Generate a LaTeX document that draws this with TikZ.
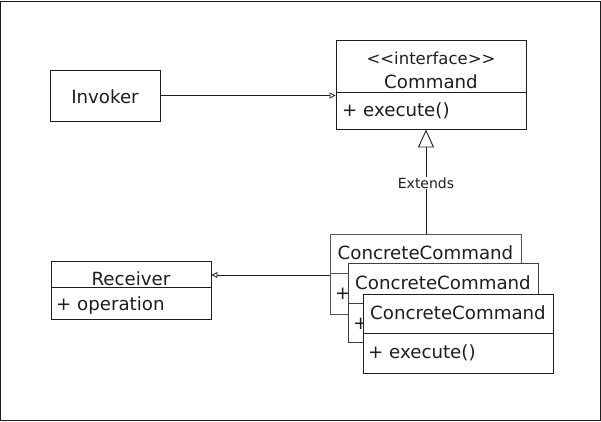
\documentclass[tikz,border=0pt]{standalone}
\usepackage{fontspec}
\setmainfont{DejaVu Sans}
\usetikzlibrary{arrows.meta}
\definecolor{ink}{HTML}{1E1E1E}
\begin{document}
\begin{tikzpicture}[x=1pt,y=-1pt,
  box/.style={draw=ink, line width=0.9pt, fill=white, inner sep=0pt, anchor=center},
  lbl/.style={font=\fontsize{18.2}{21}\selectfont, text=ink, inner sep=0pt},
  small/.style={font=\fontsize{14}{17}\selectfont, text=ink, inner sep=1pt, fill=white},
  assoc/.style={draw=ink, line width=0.8pt, -{Triangle[open, length=6pt, width=6pt]}},
  inherit/.style={draw=ink, line width=0.9pt, -{Triangle[open, length=18pt, width=16pt]}}]
\useasboundingbox (0,0) rectangle (601,421);
\draw[ink, line width=1pt] (0.8,1.2) rectangle (600,420);

% Invoker
\node[box, minimum width=110pt, minimum height=51pt] (inv) at (105,95.5) {};
\node[lbl] (invt) at (105,97) {Invoker};

% Command
\node[box, minimum width=190pt, minimum height=52pt] (cmdh) at (431,66) {};
\node[box, minimum width=190pt, minimum height=37pt] (cmdb) at (431,110.5) {};
\node[lbl, font=\fontsize{16.5}{20}\selectfont] (cmds) at (431,58) {{<}{<}interface{>}{>}};
\node[lbl] (cmdn) at (431,82) {Command};
\node[lbl, anchor=west] (cmde) at (342,111) {+ execute()};

% Receiver
\node[box, minimum width=160pt, minimum height=26pt] (rech) at (131,274) {};
\node[box, minimum width=160pt, minimum height=32pt] (recb) at (131,303) {};
\node[lbl] (recn) at (131,279) {Receiver};
\node[lbl, anchor=west] (reco) at (56,305) {+ operation};

% ConcreteCommand 1
\node[box, draw=ink!75, minimum width=191pt, minimum height=39pt] (c1h) at (425.5,253.5) {};
\node[box, draw=ink!75, minimum width=191pt, minimum height=41pt] (c1b) at (425.5,293.5) {};
\node[lbl] (c1n) at (425.5,253) {ConcreteCommand};
\node[lbl, anchor=west] (c1p) at (335,294) {+};

% ConcreteCommand 2
\node[box, draw=ink!85, minimum width=190pt, minimum height=40pt] (c2h) at (443,283) {};
\node[box, draw=ink!85, minimum width=190pt, minimum height=39pt] (c2b) at (443,322.5) {};
\node[lbl] (c2n) at (443,283) {ConcreteCommand};
\node[lbl, anchor=west] (c2p) at (353,324) {+};

% ConcreteCommand 3
\node[box, minimum width=190pt, minimum height=39pt] (c3h) at (458,313.5) {};
\node[box, minimum width=190pt, minimum height=40pt] (c3b) at (458,353) {};
\node[lbl] (c3n) at (458,313) {ConcreteCommand};
\node[lbl, anchor=west] (c3e) at (368,353) {+ execute()};

% connectors
\draw[assoc] (inv.east) -- (inv.east -| cmdh.west);
\coordinate (c1top) at (426,234);
\draw[inherit] (c1top) -- (c1top |- cmdb.south);
\node[small] (ext) at (426,183) {Extends};
\coordinate (c1left) at (330,275);
\draw[assoc] (c1left) -- (c1left -| rech.east);
\end{tikzpicture}
\end{document}
